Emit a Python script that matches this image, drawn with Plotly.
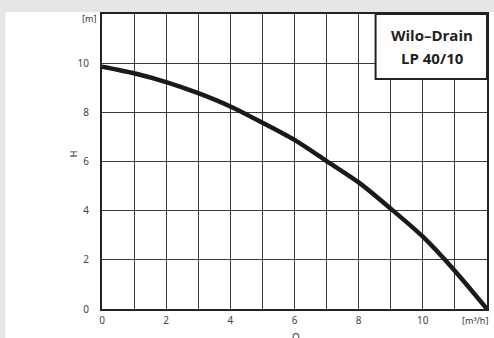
import plotly.graph_objects as go

# Data
flow_q = [0, 1, 2, 3, 4, 5, 6, 7, 8, 9, 10, 11, 12]
head_h = [9.86, 9.59, 9.23, 8.78, 8.24, 7.58, 6.88, 6.02, 5.15, 4.08, 2.94, 1.55, 0.0]

x_tickvals = list(range(0, 13))
x_ticktext = ["0", "", "2", "", "4", "", "6", "", "8", "", "10", "", ""]
y_tickvals = [0, 2, 4, 6, 8, 10, 12]
y_ticktext = ["0", "2", "4", "6", "8", "10", ""]

title_lines = ["Wilo\u2013Drain", "LP 40/10"]

fig = go.Figure()
fig.add_trace(go.Scatter(
    x=flow_q, y=head_h, mode="lines",
    line=dict(color="#1a1a1a", width=4.5, shape="spline", smoothing=0.8),
    hoverinfo="skip", showlegend=False,
))

L, R, T, B = 102, 5, 14, 29
W, H = 494, 338
pw = W - L - R
ph = H - T - B

def px_x(p):
    return (p - L) / pw

def px_y(p):
    return (H - B - p) / ph

def label(text, x, y, size=9, family="Noto Sans", color="#333", angle=0):
    return dict(text=text, xref="paper", yref="paper", x=px_x(x), y=px_y(y),
                xanchor="center", yanchor="middle", showarrow=False,
                textangle=angle, font=dict(family=family, size=size, color=color))

grid_col = "#3a3a3a"
fig.update_layout(
    width=W, height=H,
    margin=dict(l=L, r=R, t=T, b=B, pad=0),
    paper_bgcolor="#e6e6e6",
    plot_bgcolor="white",
    font=dict(family="Noto Sans", size=10, color="#444"),
    xaxis=dict(
        range=[0, 12], tickmode="array", tickvals=x_tickvals, ticktext=x_ticktext,
        showgrid=True, gridcolor=grid_col, gridwidth=1,
        showline=True, linecolor="#222", linewidth=2, mirror=True,
        zeroline=False, ticks="", ticklabelstandoff=1,
        tickfont=dict(size=10, color="#444"),
    ),
    yaxis=dict(
        range=[0, 12], tickmode="array", tickvals=y_tickvals, ticktext=y_ticktext,
        showgrid=True, gridcolor=grid_col, gridwidth=1,
        showline=True, linecolor="#222", linewidth=2, mirror=True,
        zeroline=False, ticks="", ticklabelstandoff=9,
        tickfont=dict(size=10, color="#444"),
    ),
    shapes=[
        # white page area (gray strips on top and left)
        dict(type="rect", xref="paper", yref="paper",
             x0=px_x(5), x1=px_x(W + 5), y0=px_y(H + 5), y1=px_y(12),
             fillcolor="white", line=dict(width=0), layer="below"),
        # title box
        dict(type="rect", xref="paper", yref="paper",
             x0=px_x(377), x1=1.0, y0=px_y(79), y1=1.0,
             fillcolor="white", line=dict(color="#222", width=2), layer="above"),
    ],
    annotations=[
        label("<b>" + title_lines[0] + "</b>", 434, 35, size=15, family="Open Sans", color="#222"),
        label("<b>" + title_lines[1] + "</b>", 434, 58, size=15, family="Open Sans", color="#222"),
        label("[m]", 89, 18),
        label("H", 73, 154, angle=-90),
        label("[m\u00b3/h]", 477, 320),
        label("Q", 297, 337, size=10),
    ],
)

fig.write_html(
    "out.html",
    config={"displayModeBar": False},
    post_script="document.body.style.margin='0';document.body.style.padding='0';"
                "document.body.style.overflow='hidden';",
)
